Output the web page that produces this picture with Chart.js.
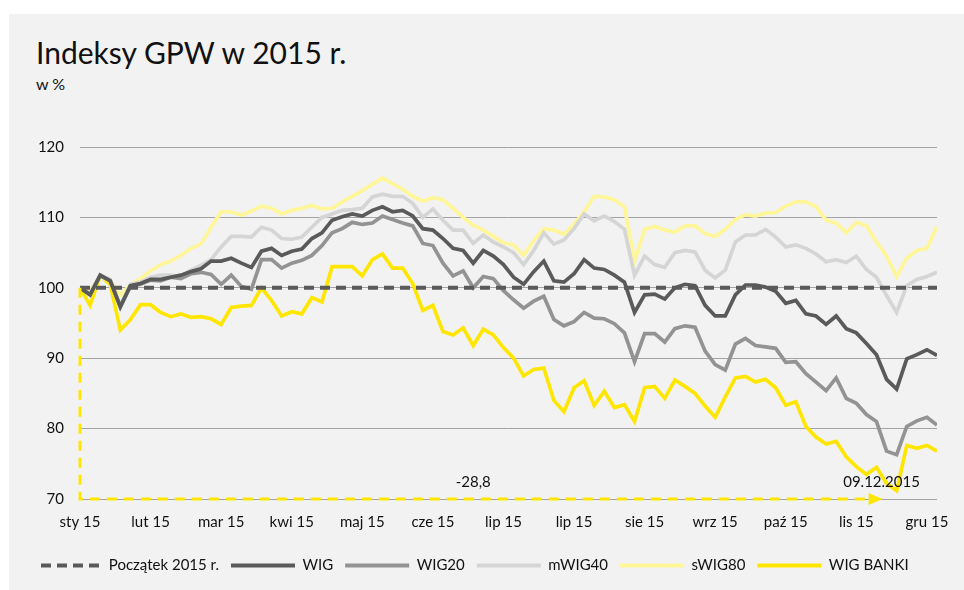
<!DOCTYPE html>
<html>
<head>
<meta charset="utf-8">
<script src="https://cdn.jsdelivr.net/npm/chart.js@4.4.1/dist/chart.umd.min.js"></script>
<style>
    body { margin: 0; background: #ffffff; }
    #panel { position: absolute; left: 9px; top: 14px; width: 955px; height: 576px; background: #f2f2f2; }
    .title { position: absolute; left: 27px; top: 23px; font: 30px Lato, sans-serif; color: #111; line-height: 30px; white-space: nowrap; }
    .unit { position: absolute; left: 27px; top: 62px; font: 16px Lato, sans-serif; color: #111; line-height: 16px; }
    #chartBox { position: absolute; left: 0; top: 86px; width: 955px; height: 490px; }
</style>
</head>
<body>
<div id="panel">
    <div class="title">Indeksy GPW w 2015 r.</div>
    <div class="unit">w %</div>
    <div id="chartBox"><canvas id="chart"></canvas></div>
</div>
<script>
// x ticks: one label every 7 points (points are ~3 trading days apart)
const monthLabels = ['sty 15', 'lut 15', 'mar 15', 'kwi 15', 'maj 15', 'cze 15', 'lip 15',
    'lip 15', 'sie 15', 'wrz 15', 'paź 15', 'lis 15', 'gru 15'];
const labelStep = 7;
const yTicks = [70, 80, 90, 100, 110, 120];

const seriesNames = ['Początek 2015 r.', 'WIG', 'WIG20', 'mWIG40', 'sWIG80', 'WIG BANKI'];

const wig = [100, 99, 101.8, 101, 97.3, 100.3, 100.6, 101.2, 101.2, 101.5,
    101.8, 102.3, 102.7, 103.8, 103.8, 104.2, 103.5, 102.9, 105.2, 105.6,
    104.6, 105.2, 105.5, 107, 107.8, 109.6, 110.1, 110.5, 110.2, 111,
    111.5, 110.8, 111, 110.2, 108.4, 108.2, 107, 105.6, 105.3, 103.5,
    105.3, 104.5, 103.3, 101.5, 100.5, 102.3, 103.8, 101, 100.8, 102,
    104, 102.8, 102.6, 101.8, 100.8, 96.5, 99, 99.1, 98.4, 100,
    100.5, 100.3, 97.5, 96, 96, 99, 100.4, 100.4, 100.1, 99.5,
    97.8, 98.2, 96.3, 96, 94.8, 96, 94.2, 93.6, 92.1, 90.5,
    87, 85.6, 89.9, 90.5, 91.2, 90.4];

const wig20 = [100, 99, 101.7, 101, 97.3, 100.2, 100.5, 101.1, 101, 101.5,
    101.3, 102, 102.2, 101.9, 100.5, 101.8, 100.2, 99.8, 104, 104,
    102.8, 103.5, 103.9, 104.6, 106, 107.8, 108.4, 109.3, 109, 109.2,
    110.2, 109.7, 109.2, 108.8, 106.3, 106, 103.5, 101.7, 102.4, 100,
    101.6, 101.3, 99.6, 98.3, 97.1, 98.1, 98.8, 95.5, 94.6, 95.2,
    96.5, 95.7, 95.6, 94.9, 93.6, 89.5, 93.5, 93.5, 92.3, 94.2,
    94.6, 94.4, 91, 89.1, 88.3, 92, 92.8, 91.8, 91.6, 91.4,
    89.4, 89.5, 87.8, 86.6, 85.4, 87.2, 84.3, 83.6, 82, 81,
    76.8, 76.3, 80.3, 81.1, 81.6, 80.5];

const mwig40 = [100, 99.2, 101.8, 101.2, 97.5, 100.5, 100.8, 101.5, 101.8, 101.8,
    101.6, 102.5, 103.2, 104, 105.8, 107.3, 107.3, 107.2, 108.6, 108.2,
    107, 106.9, 107.2, 108.6, 110, 110.5, 111, 111.1, 111.3, 112.9,
    113.3, 113, 113, 112, 110, 111.2, 109.6, 108.2, 108.2, 106.3,
    107.5, 106.5, 105.8, 105, 103.3, 105.3, 107.8, 106.2, 106.8, 108.4,
    110.5, 109.5, 110.2, 109.4, 108.3, 101.8, 104.5, 103.3, 102.9, 105,
    105.3, 105.1, 102.5, 101.4, 102.5, 106.5, 107.5, 107.5, 108.3, 107.2,
    105.8, 106.1, 105.6, 104.8, 103.7, 104, 103.6, 104.5, 102.6, 101.5,
    98.9, 96.5, 100.3, 101.2, 101.6, 102.2];

const swig80 = [100, 99.6, 101.5, 101, 99, 100.4, 101.3, 102.4, 103.3, 103.8,
    104.6, 105.6, 106.2, 108.6, 110.8, 110.8, 110.3, 110.9, 111.6, 111.3,
    110.5, 111, 111.3, 111.7, 111.2, 111.3, 112.2, 113, 113.8, 114.7,
    115.6, 114.8, 114, 113, 112.3, 112.8, 112.5, 111.3, 110, 108.9,
    108.2, 107.3, 106.4, 106.1, 104.6, 106.7, 108.4, 108.2, 107.6, 109,
    110.8, 113, 112.9, 112.5, 111.5, 103.8, 108.3, 108.7, 108.2, 107.9,
    108.8, 108.8, 107.7, 107.3, 108.3, 109.7, 110.4, 110.2, 110.6, 110.7,
    111.6, 112.2, 112.2, 111.5, 109.6, 109.2, 107.8, 109.3, 108.8, 106.5,
    104.5, 101.6, 104.2, 105.3, 105.6, 108.7];

const wigBanki = [100, 97.5, 101.7, 100.5, 94, 95.5, 97.6, 97.6, 96.5, 95.9,
    96.3, 95.8, 95.9, 95.6, 94.8, 97.2, 97.4, 97.5, 100, 98.2,
    96, 96.6, 96.3, 98.6, 98, 103, 103, 103, 101.7, 104,
    104.8, 102.8, 102.8, 100.6, 96.8, 97.5, 93.8, 93.3, 94.3, 91.8,
    94.1, 93.3, 91.5, 90, 87.5, 88.4, 88.6, 84, 82.4, 85.8,
    86.8, 83.3, 85.3, 83, 83.4, 81, 85.8, 86, 84.3, 86.9,
    86, 85, 83.2, 81.6, 84.5, 87.2, 87.4, 86.6, 87, 85.8,
    83.3, 83.8, 80.3, 78.8, 77.8, 78.2, 76, 74.6, 73.5, 74.5,
    72.2, 71.2, 77.6, 77.2, 77.6, 76.8];

// start-of-year reference level, drawn from the first to the last point
const startLevel = [{ x: 0, y: 100 }, { x: 85, y: 100 }];

// WIG BANKI drawdown annotation
const drawdownFrom = 100;
const drawdownTo = 70;
const drawdownEndIdx = 79.6;
const drawdownText = '-28,8';
const drawdownTextIdx = 39;
const drawdownDate = '09.12.2015';
const drawdownDateIdx = 79.5;
const annotTextLevel = 72.4;

const colors = ['#5a5a5a', '#5a5a5a', '#939393', '#d5d5d5', '#fff699', '#ffe600'];
const seriesData = [startLevel, wig, wig20, mwig40, swig80, wigBanki];

const dayIdx = wig.map((_, i) => i);

// dashed swatch for the legend (the legend draws point-style lines solid)
const makeDashPattern = (color) => {
    const c = document.createElement('canvas');
    c.width = 16;
    c.height = 4;
    const g = c.getContext('2d');
    g.fillStyle = color;
    g.fillRect(0, 0, 10, 4);
    return g.createPattern(c, 'repeat');
};

// yellow dashed arrow + labels for the bank index fall
const drawdownPlugin = {
    id: 'drawdown',
    afterDatasetsDraw(chart) {
        const { ctx, scales: { x, y } } = chart;
        const x0 = x.getPixelForValue(0);
        const y0 = y.getPixelForValue(drawdownFrom);
        const y1 = y.getPixelForValue(drawdownTo);
        const x1 = x.getPixelForValue(drawdownEndIdx);
        ctx.save();
        ctx.strokeStyle = '#ffe600';
        ctx.fillStyle = '#ffe600';
        ctx.lineWidth = 3;
        ctx.setLineDash([10, 7]);
        ctx.beginPath();
        ctx.moveTo(x0, y0);
        ctx.lineTo(x0, y1);
        ctx.lineTo(x1 - 12, y1);
        ctx.stroke();
        ctx.setLineDash([]);
        ctx.beginPath();
        ctx.moveTo(x1, y1);
        ctx.lineTo(x1 - 14, y1 - 6);
        ctx.lineTo(x1 - 14, y1 + 6);
        ctx.closePath();
        ctx.fill();

        ctx.fillStyle = '#111';
        ctx.font = '15px Lato, sans-serif';
        ctx.textAlign = 'center';
        ctx.textBaseline = 'middle';
        ctx.fillText(drawdownText, x.getPixelForValue(drawdownTextIdx), y.getPixelForValue(annotTextLevel));
        ctx.fillText(drawdownDate, x.getPixelForValue(drawdownDateIdx), y.getPixelForValue(annotTextLevel));
        ctx.restore();
    }
};

Chart.defaults.font.family = 'Lato, sans-serif';
Chart.defaults.color = '#111';

new Chart(document.getElementById('chart'), {
    type: 'line',
    data: {
        labels: dayIdx,
        datasets: seriesNames.map((name, i) => ({
            label: name,
            data: seriesData[i],
            borderColor: colors[i],
            backgroundColor: colors[i],
            borderWidth: i === 0 ? 4 : 3.7,
            borderDash: i === 0 ? [10, 6] : [],
            pointRadius: 0,
            tension: 0,
            fill: false,
        }))
    },
    options: {
        responsive: true,
        maintainAspectRatio: false,
        animation: false,
        layout: { padding: { left: 0, right: 27, top: 47, bottom: 7 } },
        plugins: {
            legend: {
                position: 'bottom',
                labels: {
                    boxWidth: 64,
                    boxHeight: 4,
                    padding: 12,
                    font: { size: 15 },
                    color: '#111',
                    generateLabels: (chart) => Chart.defaults.plugins.legend.labels.generateLabels(chart)
                        .map((item, i) => ({
                            ...item,
                            lineWidth: 0,
                            lineDash: [],
                            fillStyle: i === 0 ? makeDashPattern(colors[0]) : colors[i],
                        })),
                }
            },
            tooltip: { enabled: false },
        },
        scales: {
            x: {
                type: 'linear',
                min: 0,
                max: 85,
                grid: { display: false },
                border: { display: false },
                afterBuildTicks: (scale) => {
                    scale.ticks = monthLabels.map((_, i) => ({ value: i * labelStep }));
                },
                ticks: {
                    autoSkip: false,
                    maxRotation: 0,
                    padding: 6,
                    font: { size: 15 },
                    callback: (v) => monthLabels[Math.round(v / labelStep)] || '',
                },
                afterFit: (scale) => { scale.height = 47; },
            },
            y: {
                min: yTicks[0],
                max: yTicks[yTicks.length - 1],
                grid: { color: '#a3a3a3', lineWidth: 1, drawTicks: false },
                border: { display: false },
                ticks: {
                    stepSize: 10,
                    padding: 16,
                    font: { size: 15 },
                },
                afterFit: (scale) => { scale.width = 71; },
            }
        }
    },
    plugins: [drawdownPlugin]
});
</script>
</body>
</html>
